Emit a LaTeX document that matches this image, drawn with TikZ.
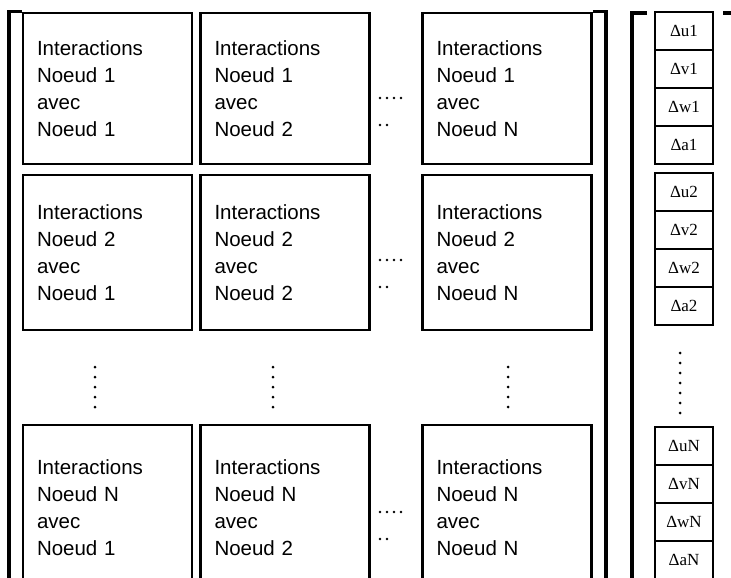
\documentclass[tikz,border=0pt]{standalone}
\usepackage{fontspec}
\setmainfont{Liberation Sans}
\newfontfamily\vecfont{Liberation Serif}

\begin{document}
\begin{tikzpicture}[
  x=1pt, y=-1pt,
  cell/.style={draw, line width=2.8pt, text width=141pt, inner xsep=14pt, align=left, font=\fontsize{20.5}{27}\selectfont},
  vcell/.style={draw, line width=2.8pt, minimum width=58pt, minimum height=38pt, inner sep=0pt, font=\vecfont\fontsize{17}{17}\selectfont},
  brk/.style={line width=3.2pt},
]
\fill[white] (0,0) rectangle (731,578);
\useasboundingbox (0,0) rectangle (731,578);

% matrix blocks
\foreach \row/\y/\h in {1/88.5/151pt, 2/252.5/155pt, N/508/166pt}{
  \foreach \col/\x in {1/107.5, 2/285, N/507}{
    \node[cell, minimum height=\h] (m\row\col) at (\x,\y) {Interactions\\Noeud \row\\avec\\Noeud \col};
  }
}

% matrix brackets
\draw[brk] (m11.north west) -| (9,590);
\draw[brk] (m1N.north east) -| (606,590);

% dots
\foreach \x in {95,273,508}{
  \foreach \k in {0,...,4} \fill (\x,{367+10*\k}) circle (1.5pt);
}
\foreach \y in {98,260,512}{
  \foreach \k in {0,...,3} \fill ({380+7*\k},\y) circle (1.3pt);
  \foreach \k in {0,1} \fill ({380+7*\k},{\y+27}) circle (1.3pt);
}

% vector
\foreach \g/\t in {1/12, 2/173, N/427}{
  \foreach \comp [count=\i] in {u,v,w,a}{
    \node[vcell] (d\comp\g) at (684,{\t+38*\i-19}) {Δ\comp\g};
  }
}
\foreach \k in {0,...,6} \fill (680,{353+10*\k}) circle (1.5pt);

% vector brackets
\draw[brk] (647,13) -| (632,590);
\draw[brk] (723,13) -| (740,590);
\end{tikzpicture}
\end{document}
